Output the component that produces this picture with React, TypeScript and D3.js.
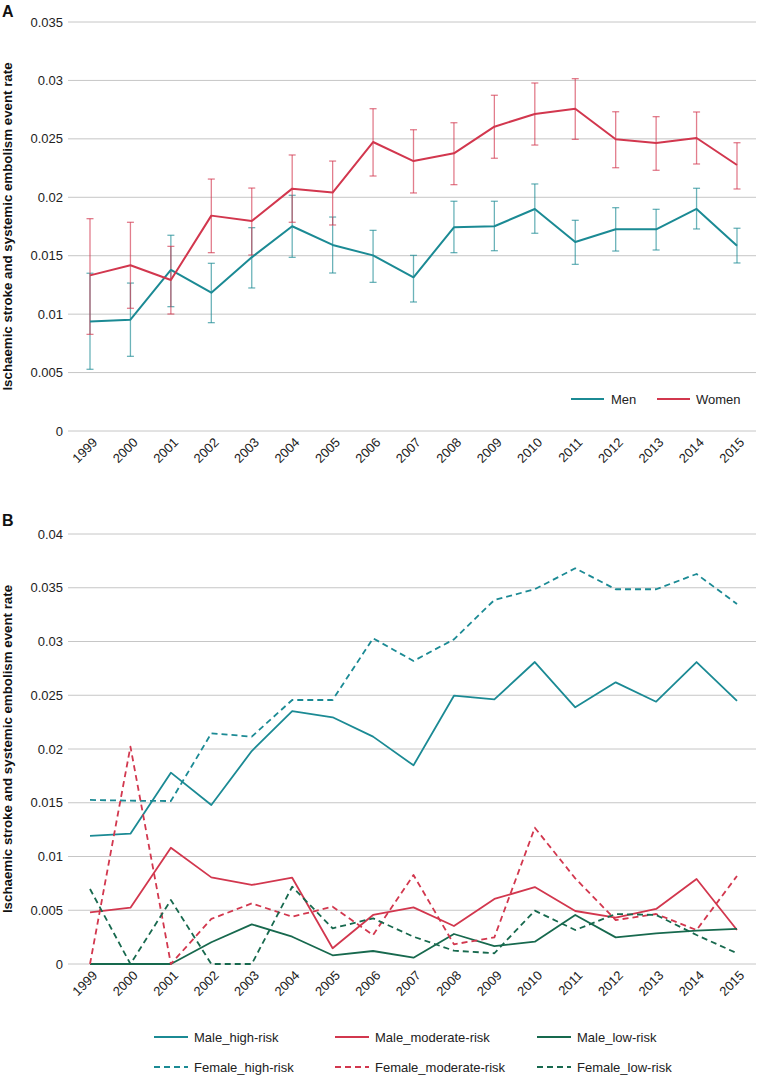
import { useEffect, useRef } from 'react';
import * as d3 from 'd3';

const years = ['1999', '2000', '2001', '2002', '2003', '2004', '2005', '2006', '2007', '2008', '2009', '2010', '2011', '2012', '2013', '2014', '2015'];

// Panel A
const menRate = [0.00938, 0.00953, 0.01378, 0.01184, 0.01486, 0.01752, 0.01592, 0.01503, 0.01315, 0.01743, 0.01752, 0.019, 0.01617, 0.01726, 0.01726, 0.019, 0.01586];
const menHi = [0.0135, 0.01266, 0.01675, 0.01435, 0.0174, 0.02017, 0.01831, 0.01717, 0.01503, 0.01966, 0.01966, 0.02114, 0.01803, 0.01911, 0.01897, 0.02077, 0.01735];
const menLo = [0.00528, 0.00639, 0.01064, 0.00927, 0.01224, 0.01486, 0.01352, 0.01272, 0.01104, 0.01526, 0.01543, 0.01692, 0.01426, 0.0154, 0.01549, 0.01729, 0.01438];
const womenRate = [0.01332, 0.01418, 0.01292, 0.01843, 0.01797, 0.02074, 0.0204, 0.02473, 0.0231, 0.02376, 0.02604, 0.02713, 0.02758, 0.02496, 0.02464, 0.02507, 0.02276];
const womenHi = [0.01817, 0.01786, 0.0158, 0.02156, 0.02079, 0.02362, 0.0231, 0.02758, 0.02578, 0.02638, 0.02873, 0.02978, 0.03015, 0.02732, 0.0269, 0.0273, 0.02467];
const womenLo = [0.00827, 0.0105, 0.01001, 0.01526, 0.01506, 0.01786, 0.01763, 0.02182, 0.02037, 0.02108, 0.02334, 0.02447, 0.02496, 0.02253, 0.02231, 0.02285, 0.02071];
const ticksA = [0, 0.005, 0.01, 0.015, 0.02, 0.025, 0.03, 0.035];

// Panel B
const maleHigh = [0.01191, 0.01212, 0.0178, 0.01479, 0.01981, 0.02353, 0.02295, 0.02115, 0.01848, 0.02496, 0.02462, 0.02809, 0.02388, 0.0262, 0.0244, 0.02809, 0.02447];
const femaleHigh = [0.01526, 0.01519, 0.01516, 0.02146, 0.02115, 0.02456, 0.02456, 0.0303, 0.02819, 0.0302, 0.03386, 0.03486, 0.03681, 0.03486, 0.03486, 0.03628, 0.03349];
const maleModerate = [0.00481, 0.00524, 0.01082, 0.00806, 0.00735, 0.00803, 0.00146, 0.00456, 0.00527, 0.00353, 0.00605, 0.00716, 0.00493, 0.00431, 0.00512, 0.00791, 0.00316];
const femaleModerate = [0, 0.02022, 0, 0.00419, 0.00564, 0.0044, 0.00533, 0.0027, 0.00828, 0.00183, 0.00248, 0.01268, 0.00797, 0.00409, 0.00465, 0.00316, 0.00819];
const maleLow = [0, 0, 0, 0.00202, 0.00369, 0.00254, 0.00081, 0.00121, 0.00059, 0.00279, 0.00167, 0.00208, 0.00456, 0.00248, 0.00285, 0.0031, 0.00326];
const femaleLow = [0.00698, 0, 0.00595, 0, 0, 0.00719, 0.00332, 0.00425, 0.00254, 0.00124, 0.001, 0.00496, 0.00316, 0.00465, 0.00456, 0.0027, 0.001];
const ticksB = [0, 0.005, 0.01, 0.015, 0.02, 0.025, 0.03, 0.035, 0.04];

const TEAL = '#1b8a94';
const RED = '#d2374e';
const GREEN = '#17694e';
const FONT = 'Liberation Sans, Arial, sans-serif';
const TITLE = 'Ischaemic stroke and systemic embolism event rate';

export default function App() {
  const svgRef = useRef<SVGSVGElement | null>(null);

  useEffect(() => {
    if (!svgRef.current) return;
    const svg = d3.select(svgRef.current);
    svg.selectAll('*').remove();

    const x = d3.scalePoint<string>().domain(years).range([90, 737]);
    const gridX0 = 68;
    const gridX1 = 756;

    const drawFrame = (
      yScale: d3.ScaleLinear<number, number>,
      ticks: number[],
      letter: string,
      letterY: number
    ) => {
      const g = svg.append('g');
      g.selectAll('line.grid')
        .data(ticks)
        .enter()
        .append('line')
        .attr('x1', gridX0)
        .attr('x2', gridX1)
        .attr('y1', (d) => yScale(d))
        .attr('y2', (d) => yScale(d))
        .attr('stroke', '#c6c6c6')
        .attr('stroke-width', 1);
      g.selectAll('text.tick')
        .data(ticks)
        .enter()
        .append('text')
        .attr('x', 63)
        .attr('y', (d) => yScale(d))
        .attr('dy', '0.35em')
        .attr('text-anchor', 'end')
        .attr('font-family', FONT)
        .attr('font-size', 13)
        .attr('fill', '#222')
        .text((d) => (d === 0 ? '0' : String(d)));

      const base = yScale(0);
      g.selectAll('text.year')
        .data(years)
        .enter()
        .append('text')
        .attr('transform', (d) => `translate(${x(d)! + 5},${base + 9}) rotate(-45)`)
        .attr('text-anchor', 'end')
        .attr('dy', '0.35em')
        .attr('font-family', FONT)
        .attr('font-size', 13)
        .attr('fill', '#222')
        .text((d) => d);

      const [r0, r1] = yScale.range();
      g.append('text')
        .attr('transform', `translate(12,${(r0 + r1) / 2}) rotate(-90)`)
        .attr('text-anchor', 'middle')
        .attr('font-family', FONT)
        .attr('font-size', 13.3)
        .attr('font-weight', 700)
        .attr('fill', '#111')
        .text(TITLE);

      g.append('text')
        .attr('x', 2)
        .attr('y', letterY)
        .attr('font-family', FONT)
        .attr('font-size', 16)
        .attr('font-weight', 700)
        .attr('fill', '#111')
        .text(letter);
    };

    const lineFor = (yScale: d3.ScaleLinear<number, number>) =>
      d3
        .line<number>()
        .x((_, i) => x(years[i])!)
        .y((d) => yScale(d));

    // ---- Panel A
    const yA = d3.scaleLinear().domain([0, 0.035]).range([431, 22]);
    drawFrame(yA, ticksA, 'A', 17);

    const seriesA = [
      { name: 'Men', color: TEAL, vals: menRate, hi: menHi, lo: menLo },
      { name: 'Women', color: RED, vals: womenRate, hi: womenHi, lo: womenLo },
    ];

    seriesA.forEach((s) => {
      const eb = svg.append('g').attr('stroke', s.color).attr('stroke-opacity', 0.65).attr('stroke-width', 1.3);
      years.forEach((yr, i) => {
        const cx = x(yr)!;
        eb.append('line').attr('x1', cx).attr('x2', cx).attr('y1', yA(s.hi[i])).attr('y2', yA(s.lo[i]));
        eb.append('line').attr('x1', cx - 3.5).attr('x2', cx + 3.5).attr('y1', yA(s.hi[i])).attr('y2', yA(s.hi[i]));
        eb.append('line').attr('x1', cx - 3.5).attr('x2', cx + 3.5).attr('y1', yA(s.lo[i])).attr('y2', yA(s.lo[i]));
      });
    });
    seriesA.forEach((s) => {
      svg
        .append('path')
        .attr('d', lineFor(yA)(s.vals)!)
        .attr('fill', 'none')
        .attr('stroke', s.color)
        .attr('stroke-width', 2)
        .attr('stroke-linejoin', 'round');
    });

    const legA = [
      { name: 'Men', color: TEAL, lx: 571, tx: 611 },
      { name: 'Women', color: RED, lx: 657, tx: 696 },
    ];
    legA.forEach((l) => {
      svg.append('line').attr('x1', l.lx).attr('x2', l.lx + 33).attr('y1', 399).attr('y2', 399).attr('stroke', l.color).attr('stroke-width', 2);
      svg
        .append('text')
        .attr('x', l.tx)
        .attr('y', 399)
        .attr('dy', '0.35em')
        .attr('font-family', FONT)
        .attr('font-size', 13)
        .attr('fill', '#222')
        .text(l.name);
    });

    // ---- Panel B
    const yB = d3.scaleLinear().domain([0, 0.04]).range([964, 534]);
    drawFrame(yB, ticksB, 'B', 526);

    const seriesB = [
      { name: 'Male_high-risk', color: TEAL, vals: maleHigh, dash: false },
      { name: 'Male_moderate-risk', color: RED, vals: maleModerate, dash: false },
      { name: 'Male_low-risk', color: GREEN, vals: maleLow, dash: false },
      { name: 'Female_high-risk', color: TEAL, vals: femaleHigh, dash: true },
      { name: 'Female_moderate-risk', color: RED, vals: femaleModerate, dash: true },
      { name: 'Female_low-risk', color: GREEN, vals: femaleLow, dash: true },
    ];

    seriesB.forEach((s) => {
      svg
        .append('path')
        .attr('d', lineFor(yB)(s.vals)!)
        .attr('fill', 'none')
        .attr('stroke', s.color)
        .attr('stroke-width', 1.8)
        .attr('stroke-dasharray', s.dash ? '6,4' : null)
        .attr('stroke-linejoin', 'round');
    });

    const legCols = [154, 335, 537];
    const legRows = [1037, 1067];
    seriesB.forEach((s, i) => {
      const lx = legCols[i % 3];
      const ly = legRows[Math.floor(i / 3)];
      svg
        .append('line')
        .attr('x1', lx)
        .attr('x2', lx + 34)
        .attr('y1', ly)
        .attr('y2', ly)
        .attr('stroke', s.color)
        .attr('stroke-width', 1.8)
        .attr('stroke-dasharray', s.dash ? '6,4' : null);
      svg
        .append('text')
        .attr('x', lx + 40)
        .attr('y', ly)
        .attr('dy', '0.35em')
        .attr('font-family', FONT)
        .attr('font-size', 13)
        .attr('fill', '#222')
        .text(s.name);
    });
  }, []);

  return (
    <svg
      ref={svgRef}
      width={757}
      height={1078}
      style={{ position: 'absolute', left: 0, top: 0, background: '#fff' }}
    />
  );
}
